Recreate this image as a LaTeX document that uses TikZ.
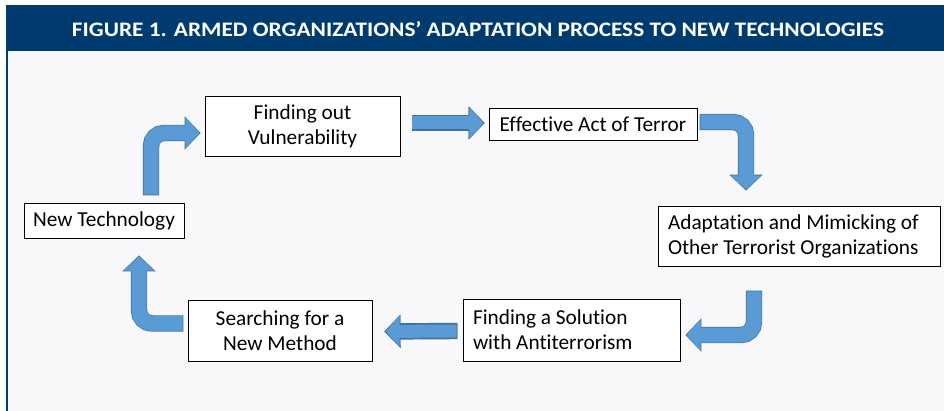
\documentclass[tikz,border=0pt]{standalone}
\usepackage{fontspec}
\setmainfont{Carlito}[Ligatures=NoCommon]
\usetikzlibrary{arrows.meta,calc}
\definecolor{bandblue}{RGB}{0,59,112}
\definecolor{panelgray}{RGB}{248,247,250}
\definecolor{arrowblue}{RGB}{91,155,213}
\definecolor{arrowedge}{RGB}{65,113,156}
\begin{document}
\begin{tikzpicture}[
		x=1pt,y=-1pt,
		stepbox/.style={draw,line width=0.8pt,fill=white,inner sep=0pt,align=center,
			font=\fontsize{21.3}{25}\selectfont},
		leftbox/.style={stepbox,align=flush left,inner xsep=10pt},
		titletext/.style={text=white,font=\bfseries,inner sep=0pt},
		bentarrow/.style={draw=arrowblue,line width=15pt,rounded corners=13pt,shorten >=1.2pt,
			-{Triangle[width=30pt,length=14pt]},
			preaction={draw=arrowedge,line width=16.4pt,shorten >=0pt,shorten <=-0.7pt,
				-{Triangle[width=32.5pt,length=16pt]}}},
		flatarrow/.style={bentarrow,line width=13pt,
			preaction={draw=arrowedge,line width=14.4pt,shorten >=0pt,shorten <=-0.7pt,
				-{Triangle[width=31.5pt,length=16pt]}}}
		]
		\useasboundingbox (0,0) rectangle (944,411);
		\fill[panelgray] (7,50) rectangle (944,411);
		\fill[bandblue] (6,5) rectangle (944,51);
		\draw[bandblue,line width=1.5pt] (6.75,5) -- (6.75,411);
		\node[titletext] (title) at (478,29)
			{\resizebox{812pt}{15pt}{FIGURE 1. ARMED ORGANIZATIONS’ ADAPTATION PROCESS TO NEW TECHNOLOGIES}};
		
		\node[stepbox,minimum width=160pt,minimum height=35pt] (newtech) at (104,220.5) {New Technology};
		\node[stepbox,minimum width=195pt,minimum height=60pt] (vuln) at (302.5,126) {Finding out\\Vulnerability};
		\node[stepbox,minimum width=208pt,minimum height=32pt] (effect) at (593,124) {Effective Act of Terror};
		\node[leftbox,text width=262pt,minimum height=60pt] (adapt) at (799,236)
			{Adaptation and Mimicking of\\Other Terrorist Organizations};
		\node[leftbox,text width=197pt,minimum height=62pt] (solution) at (571.5,330)
			{Finding a Solution\\with Antiterrorism};
		\node[stepbox,minimum width=184pt,minimum height=61pt] (search) at (280,330.5) {Searching for a\\New Method};
		
		\draw[bentarrow] ($(newtech.north)+(47,-8)$) |- ($(vuln.west)+(-4,7)$);
		\draw[flatarrow] ($(vuln.east)+(12,-3)$) -- ($(effect.west)+(-4,-1)$);
		\draw[bentarrow] ($(effect.east)+(3,-2)$) -| ($(adapt.north)+(-53,-15)$);
		\draw[bentarrow] ($(adapt.south)+(-45,25)$) |- ($(solution.east)+(5,5)$);
		\draw[flatarrow] ($(solution.west)+(-6,1)$) -- ($(search.east)+(12,1)$);
		\draw[bentarrow] ($(search.west)+(-5,-7)$) -| ($(newtech.south)+(35,17)$);
\end{tikzpicture}
\end{document}
